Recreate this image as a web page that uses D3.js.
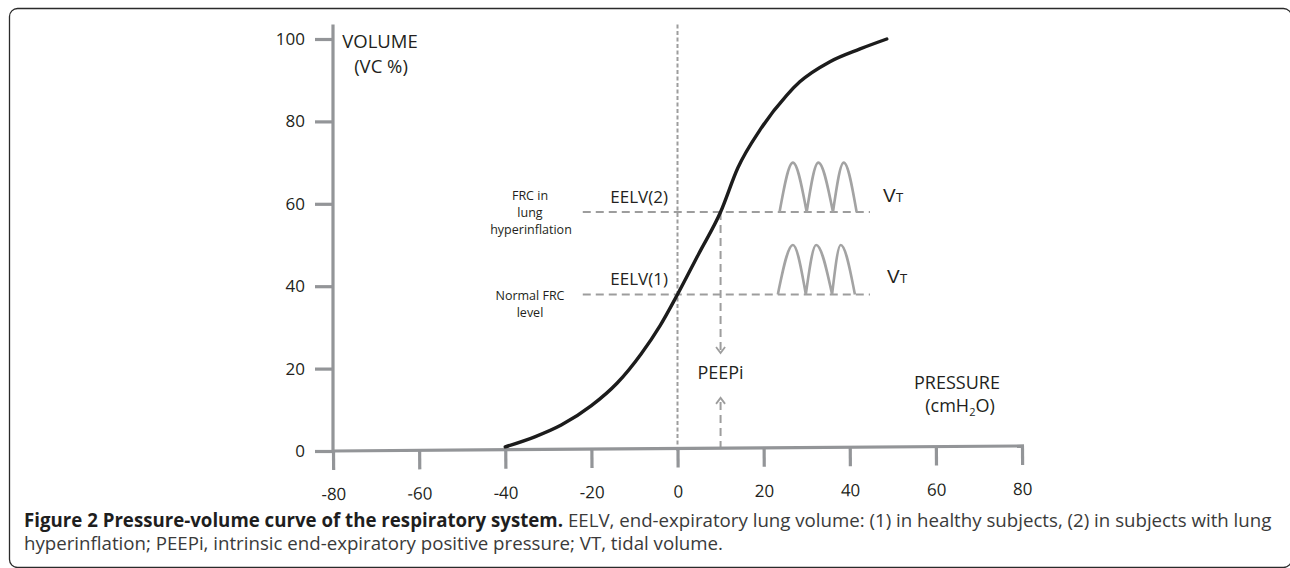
<!DOCTYPE html>
<html>
<head>
<meta charset="utf-8">
<script src="https://cdn.jsdelivr.net/npm/d3@7"></script>
<style>
  body { margin: 0; background: #fff; }
  svg { display: block; font-family: "Open Sans", sans-serif; }
</style>
</head>
<body>
<svg id="chart" width="1290" height="568"></svg>
<script>
// Pressure-volume curve (pressure cmH2O, volume VC %)
var curvePressure = [-40, -33, -27, -20, -14, -8.5, -4, 0, 5, 10, 14, 19.2, 25.4, 28.4, 35.4, 42.4, 48.6];
var curveVolume = [1, 3.5, 6.3, 11, 16.5, 23.5, 30.5, 38, 48, 58, 68.7, 78, 86.4, 89.6, 94.5, 97.6, 100];

// end-expiratory levels
var eelvLevels = [58, 38];
var eelvNames = ["EELV(2)", "EELV(1)"];
var peepi = 10;

// tidal breaths sitting on each level: x of start, peak, valley, ... and heights
var tidalXUpper = [23.7, 26.8, 30, 32.7, 36.1, 38.6, 41.6];
var tidalXLower = [23.3, 26.8, 29.8, 32.2, 35.9, 37.9, 41.2];
var tidalHeight = [0, 12, 0, 12, 0, 12, 0];

var xTicks = [-80, -60, -40, -20, 0, 20, 40, 60, 80];
var yTicks = [0, 20, 40, 60, 80, 100];

var axisGrey = "#939598",
  dashGrey = "#9d9d9d",
  ink = "#231f20";

var svg = d3.select("#chart");

var x = d3.scaleLinear().domain([-80, 80]).range([333, 1022]);
var y = d3.scaleLinear().domain([0, 100]).range([451, 39]);

// frame
svg.append("rect")
  .attr("x", 9.5).attr("y", 8.5)
  .attr("width", 1282).attr("height", 559)
  .attr("rx", 8)
  .attr("fill", "none")
  .attr("stroke", "#2b2b2b")
  .attr("stroke-width", 1.3);

// zero pressure dashed line
svg.append("line")
  .attr("x1", x(0)).attr("x2", x(0))
  .attr("y1", y(103.5)).attr("y2", y(0))
  .attr("stroke", dashGrey)
  .attr("stroke-width", 2)
  .attr("stroke-dasharray", "4,2.5");

// EELV dashed levels
eelvLevels.forEach(function(v) {
  svg.append("line")
    .attr("x1", x(-22)).attr("x2", x(44.7))
    .attr("y1", y(v)).attr("y2", y(v))
    .attr("stroke", dashGrey)
    .attr("stroke-width", 2)
    .attr("stroke-dasharray", "8,5");
});

// PEEPi arrows
svg.append("line")
  .attr("x1", x(peepi)).attr("x2", x(peepi))
  .attr("y1", y(eelvLevels[0])).attr("y2", y(23.9))
  .attr("stroke", dashGrey).attr("stroke-width", 2)
  .attr("stroke-dasharray", "8,5");
svg.append("line")
  .attr("x1", x(peepi)).attr("x2", x(peepi))
  .attr("y1", y(0.5)).attr("y2", y(12.8))
  .attr("stroke", dashGrey).attr("stroke-width", 2)
  .attr("stroke-dasharray", "8,5");

function chevron(px, py, dir) {
  return "M" + (px - 4.5) + "," + (py - dir * 6) + "L" + px + "," + py + "L" + (px + 4.5) + "," + (py - dir * 6);
}
svg.append("path")
  .attr("d", chevron(x(peepi), y(23.8), 1))
  .attr("fill", "none").attr("stroke", dashGrey).attr("stroke-width", 1.8);
svg.append("path")
  .attr("d", chevron(x(peepi), y(12.9), -1))
  .attr("fill", "none").attr("stroke", dashGrey).attr("stroke-width", 1.8);

// tidal breaths
var hump = d3.line()
  .x(function(d) { return x(d[0]); })
  .y(function(d) { return y(d[1]); })
  .curve(d3.curveMonotoneX);

function tidalPath(xs, base) {
  var d = "";
  for (var i = 0; i + 2 < xs.length; i += 2) {
    d += hump([[xs[i], base + tidalHeight[i]], [xs[i + 1], base + tidalHeight[i + 1]], [xs[i + 2], base + tidalHeight[i + 2]]]);
  }
  return d;
}
[[tidalXUpper, eelvLevels[0]], [tidalXLower, eelvLevels[1]]].forEach(function(t) {
  svg.append("path")
    .attr("d", tidalPath(t[0], t[1]))
    .attr("fill", "none")
    .attr("stroke", "#a3a3a3")
    .attr("stroke-width", 2.6);
});

// y axis
var yAxis = svg.append("g")
  .attr("transform", "translate(" + x(-80) + ",0)")
  .call(d3.axisLeft(y).tickValues(yTicks).tickSize(18).tickPadding(10));
yAxis.select(".domain").remove();
yAxis.append("line")
  .attr("y1", y(103.5)).attr("y2", y(0) + 1.5)
  .attr("stroke", axisGrey).attr("stroke-width", 3.2);

// x axis, very slightly tilted like the original drawing
var xAxis = svg.append("g")
  .attr("transform", "translate(0," + y(0) + ") rotate(-0.42," + x(-80) + ",0)")
  .call(d3.axisBottom(x).tickValues(xTicks).tickSize(19).tickPadding(18)
    .tickFormat(function(d) { return String(d); }));
xAxis.select(".domain").remove();
xAxis.append("line")
  .attr("x1", x(-80)).attr("x2", x(80) + 2)
  .attr("stroke", axisGrey).attr("stroke-width", 3.2);

svg.selectAll(".tick line").attr("stroke", axisGrey).attr("stroke-width", 3.2);
svg.selectAll(".tick text")
  .attr("fill", ink)
  .style("font-family", "'Open Sans', sans-serif")
  .style("font-size", "17px");

// the P-V curve
var line = d3.line()
  .x(function(d, i) { return x(curvePressure[i]); })
  .y(function(d) { return y(d); })
  .curve(d3.curveMonotoneX);

svg.append("path")
  .datum(curveVolume)
  .attr("d", line)
  .attr("fill", "none")
  .attr("stroke", "#1c1c1c")
  .attr("stroke-width", 3.4)
  .attr("stroke-linecap", "round");

// labels
function label(txt, lx, ly, size, anchor) {
  return svg.append("text")
    .attr("x", lx).attr("y", ly)
    .attr("text-anchor", anchor || "middle")
    .attr("fill", ink)
    .style("font-size", size + "px")
    .text(txt);
}
label("VOLUME", 380, 48, 18.5);
label("(VC %)", 381, 73, 18.5);
label("PRESSURE", 957, 389, 18);
var cm = label("(cmH", 960, 412, 18);
cm.append("tspan").attr("font-size", "11px").attr("dy", 4).text("2");
cm.append("tspan").attr("dy", -4).text("O)");

label(eelvNames[0], 668, y(eelvLevels[0]) - 9, 17, "end");
label(eelvNames[1], 668, y(eelvLevels[1]) - 9, 17, "end");

label("FRC in", 530, 200, 12.5);
label("lung", 530, 216.5, 12.5);
label("hyperinflation", 531, 233.5, 12.5);
label("Normal FRC", 530, 300, 12.5);
label("level", 530, 316.5, 12.5);

label("PEEPi", x(peepi), 379, 18);

[[883, y(eelvLevels[0]) - 10], [887, y(eelvLevels[1]) - 11]].forEach(function(p) {
  var t = svg.append("text")
    .attr("x", p[0]).attr("y", p[1])
    .attr("fill", ink)
    .style("font-family", "'Liberation Sans', Arial, sans-serif")
    .style("font-size", "19px")
    .text("V");
  t.append("tspan").style("font-size", "12.5px").text("T");
});

// caption
var cap1 = svg.append("text")
  .attr("x", 24).attr("y", 527)
  .attr("fill", "#3a3a3a")
  .style("font-size", "15px");
cap1.append("tspan").attr("font-weight", "bold").attr("fill", "#1e1e1e")
  .text("Figure 2 Pressure-volume curve of the respiratory system.");
cap1.append("tspan")
  .text(" EELV, end-expiratory lung volume: (1) in healthy subjects, (2) in subjects with lung");

var cap2 = svg.append("text")
  .attr("x", 24).attr("y", 550)
  .attr("fill", "#3a3a3a")
  .style("font-size", "15px")
  .text("hyperinflation; PEEPi, intrinsic end-expiratory positive pressure; VT, tidal volume.");

// fit caption font to the original line width
var w1 = cap1.node().getComputedTextLength();
var capSize = 15 * 1248 / w1;
cap1.style("font-size", capSize + "px");
cap2.style("font-size", capSize + "px");
</script>
</body>
</html>
